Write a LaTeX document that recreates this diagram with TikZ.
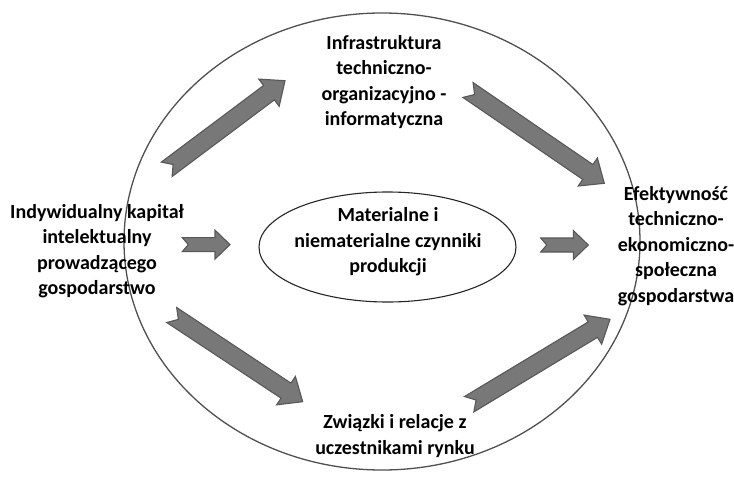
\documentclass[tikz,border=0pt]{standalone}
\usepackage{fontspec}
\setmainfont{Carlito}
\usetikzlibrary{shapes.geometric}

\definecolor{arrowgray}{RGB}{120,120,120}
\definecolor{arrowedge}{RGB}{88,88,88}
\definecolor{ringgray}{RGB}{80,80,80}

\tikzset{
  labeltext/.style={font=\bfseries\fontsize{20}{25.5}\selectfont, align=center, inner sep=0pt, text=black},
  blockarrow/.style={fill=arrowgray, draw=arrowedge, line width=1.1pt, line join=miter},
  ring/.style={draw=ringgray, line width=1.3pt, ellipse, inner sep=0pt}
}

% block arrow with notched tail: from, to, half shaft, half head, head length, notch
\newcommand{\blockarrow}[6]{%
  \pgfpointdiff{\pgfpointanchor{#1}{center}}{\pgfpointanchor{#2}{center}}%
  \pgfgetlastxy{\arrdx}{\arrdy}%
  \pgfmathsetmacro{\arrang}{atan2(\arrdy,\arrdx)}%
  \pgfmathsetmacro{\arrlen}{veclen(\arrdx,\arrdy)}%
  \pgfmathsetmacro{\arrneck}{\arrlen-#5}%
  \draw[blockarrow, shift={(#1)}, rotate=\arrang]
    (0pt,#3pt) -- (\arrneck pt,#3pt) -- (\arrneck pt,#4pt) -- (\arrlen pt,0pt)
    -- (\arrneck pt,-#4pt) -- (\arrneck pt,-#3pt) -- (0pt,-#3pt) -- (#6pt,0pt) -- cycle;
}
\newcommand{\bigarrow}[2]{\blockarrow{#1}{#2}{9}{17}{20}{8}}
\newcommand{\smallarrow}[2]{\blockarrow{#1}{#2}{7}{14.5}{15}{6}}

\begin{document}
\begin{tikzpicture}[x=1pt, y=-1pt]
\useasboundingbox (0,0) rectangle (734,479);

% outer and inner ellipse
\node[ring, minimum width=516pt, minimum height=457pt] (outer) at (382,241.5) {};
\node[ring, draw=black!85, line width=1.1pt, minimum width=257pt, minimum height=110pt] (inner) at (387.5,247) {};

% texts
\node[labeltext] (czynniki) at (388,242) {Materialne i\\niematerialne czynniki\\produkcji};
\node[labeltext] (kapital) at (97,251) {Indywidualny kapitał\\intelektualny\\prowadzącego\\gospodarstwo};
\node[labeltext] (infra) at (384,82) {Infrastruktura\\techniczno-\\organizacyjno -\\informatyczna};
\node[labeltext] (zwiazki) at (395,436) {Związki i relacje z\\uczestnikami rynku};
\node[labeltext] (efekt) at (676,246) {Efektywność\\techniczno-\\ekonomiczno-\\społeczna\\gospodarstwa};

% arrow ends
\coordinate (kapitalup) at (166.7,169.3);
\coordinate (infrain) at (285,80.7);
\coordinate (infraout) at (468,90);
\coordinate (efektup) at (604.3,183.3);
\coordinate (kapitaldown) at (171.7,315);
\coordinate (zwiazkiin) at (302.7,401.7);
\coordinate (zwiazkiout) at (469.2,404.2);
\coordinate (efektdown) at (610,319.3);
\coordinate (kapitalmid) at (182.3,244.6);
\coordinate (czynnikiin) at (230,244.6);
\coordinate (czynnikiout) at (540.7,245);
\coordinate (efektmid) at (588.3,245);

\bigarrow{kapitalup}{infrain}
\bigarrow{infraout}{efektup}
\bigarrow{kapitaldown}{zwiazkiin}
\bigarrow{zwiazkiout}{efektdown}
\smallarrow{kapitalmid}{czynnikiin}
\smallarrow{czynnikiout}{efektmid}
\end{tikzpicture}
\end{document}
